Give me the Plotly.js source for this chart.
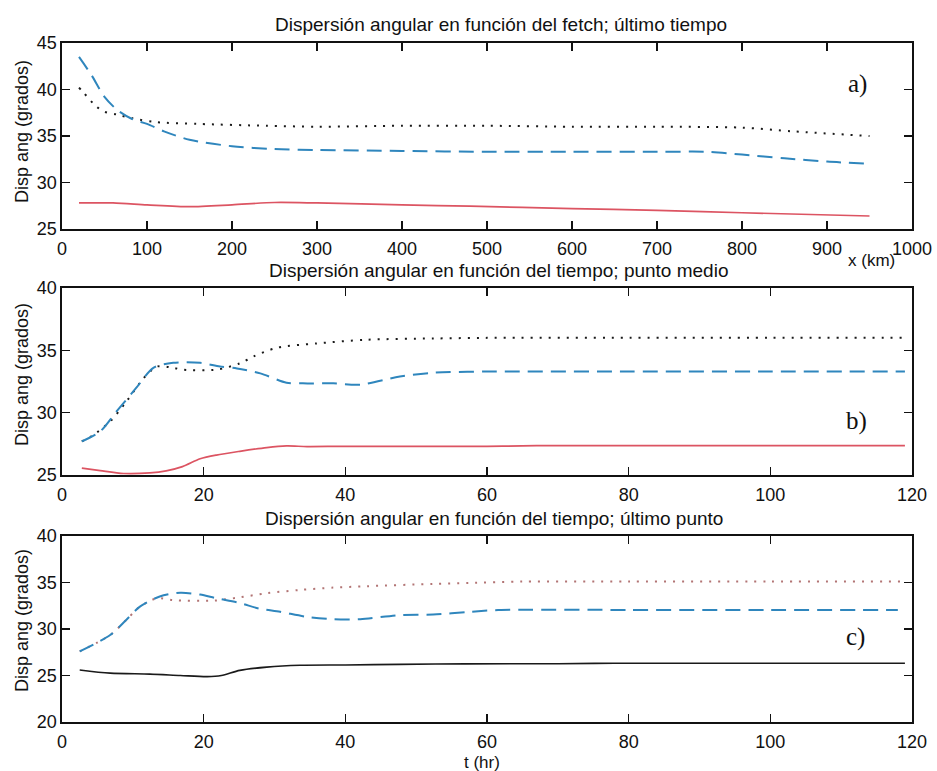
<!DOCTYPE html>
<html>
<head>
<meta charset="utf-8">
<script src="https://cdn.plot.ly/plotly-3.0.1.min.js"></script>
<style>
  html, body { margin: 0; padding: 0; background: #fff; }
  #chart { width: 937px; height: 771px; }
</style>
</head>
<body>
<div id="chart"></div>
<script>
// ---- a) angular spread vs fetch, last time step ----
const fetchDashX = [20, 35, 50, 65, 83, 100, 120, 150, 200, 250, 300, 400, 500, 600, 700, 760, 800, 850, 900, 950];
const fetchDashY = [43.5, 41.5, 39.2, 37.8, 36.8, 36.3, 35.5, 34.6, 33.9, 33.6, 33.5, 33.4, 33.3, 33.3, 33.3, 33.3, 33.0, 32.6, 32.25, 32.0];
const fetchDotX = [20, 26, 40, 50, 65, 83, 110, 160, 240, 300, 400, 500, 600, 700, 800, 860, 950];
const fetchDotY = [40.2, 39.6, 38.2, 37.6, 37.3, 36.9, 36.5, 36.3, 36.1, 36.0, 36.1, 36.1, 36.0, 36.0, 35.9, 35.5, 35.0];
const fetchSolidX = [20, 60, 100, 150, 200, 250, 300, 400, 480, 600, 700, 800, 950];
const fetchSolidY = [27.8, 27.8, 27.6, 27.4, 27.6, 27.85, 27.8, 27.6, 27.45, 27.2, 27.0, 26.75, 26.4];

// ---- b) angular spread vs time, mid point ----
const midDashT = [2.8, 5.4, 7.7, 10.5, 12.9, 15.7, 19.5, 22.3, 24.7, 28, 31.7, 34, 38.3, 42.1, 47.7, 52.4, 60, 80, 100, 119];
const midDashY = [27.7, 28.5, 30.1, 32.0, 33.6, 34.0, 34.0, 33.7, 33.55, 33.15, 32.4, 32.35, 32.35, 32.25, 32.9, 33.2, 33.3, 33.3, 33.3, 33.3];
const midDotT = [2.8, 4.4, 6.8, 9.1, 11.5, 13.4, 15.7, 17, 21.8, 25.1, 27, 30.3, 35.9, 43, 52.4, 60, 80, 100, 119];
const midDotY = [27.7, 28.2, 29.3, 30.9, 32.75, 33.7, 33.6, 33.45, 33.45, 33.95, 34.5, 35.2, 35.55, 35.85, 35.95, 36.0, 36.0, 36.0, 36.0];
const midSolidT = [2.8, 5.4, 8.7, 12.4, 14.7, 17, 19.5, 21.8, 25.1, 28.9, 31.7, 34.6, 40, 60, 67, 80, 100, 119];
const midSolidY = [25.55, 25.35, 25.12, 25.17, 25.33, 25.67, 26.3, 26.6, 26.9, 27.2, 27.33, 27.28, 27.3, 27.3, 27.35, 27.35, 27.35, 27.35];

// ---- c) angular spread vs time, last point ----
const endDashT = [2.5, 6.8, 9.1, 11.0, 13.8, 16.7, 19.5, 21.8, 25.1, 27.8, 30.8, 34.6, 38.3, 42.1, 47.7, 52.4, 57.6, 62, 80, 100, 118];
const endDashY = [27.6, 29.35, 31.0, 32.4, 33.5, 33.9, 33.7, 33.3, 32.8, 32.2, 31.85, 31.3, 31.05, 31.05, 31.5, 31.55, 31.85, 32.05, 32.05, 32.05, 32.05];
const endDotT = [2.5, 6.8, 9.1, 11.0, 13.4, 15.7, 21.4, 25.1, 28.9, 33.6, 38.3, 43, 52.4, 57.6, 65, 80, 100, 119];
const endDotY = [27.6, 29.35, 31.0, 32.4, 33.3, 33.1, 33.05, 33.4, 33.85, 34.2, 34.45, 34.6, 34.85, 34.95, 35.1, 35.1, 35.1, 35.1];
const endSolidT = [2.5, 6.8, 12.4, 16.7, 20.5, 22.5, 25.1, 28.9, 33.6, 40, 47.7, 57, 70, 78, 100, 119];
const endSolidY = [25.6, 25.25, 25.15, 25.0, 24.88, 25.0, 25.55, 25.9, 26.1, 26.13, 26.2, 26.25, 26.27, 26.32, 26.32, 26.32];

// Labels
const panelTitles = [
  'Dispersión angular en función del fetch; último tiempo',
  'Dispersión angular en función del tiempo; punto medio',
  'Dispersión angular en función del tiempo; último punto'
];
const panelTags = ['a)', 'b)', 'c)'];
const yLabel = 'Disp ang (grados)';
const xLabelFetch = 'x (km)';
const xLabelTime = 't (hr)';

const W = 937, H = 771;
const px = x => x / W;
const py = y => 1 - y / H;

const BLUE = '#2f86bd';
const RED = '#dc5462';
const BLACK = '#1a1a1a';
const PINK = '#b27474';
const DASH = '15px,8px';
const DOT = '2px,7px';

function line(x, y, axisIdx, color, dash, width) {
  const s = axisIdx === 1 ? '' : String(axisIdx);
  return {
    x: x, y: y, xaxis: 'x' + s, yaxis: 'y' + s,
    type: 'scatter', mode: 'lines',
    line: { color: color, dash: dash, width: width, shape: 'spline', smoothing: 0.8 },
    hoverinfo: 'skip', showlegend: false
  };
}

const traces = [
  line(fetchDotX, fetchDotY, 1, BLACK, DOT, 2),
  line(fetchDashX, fetchDashY, 1, BLUE, DASH, 2),
  line(fetchSolidX, fetchSolidY, 1, RED, 'solid', 1.7),
  line(midDotT, midDotY, 2, BLACK, DOT, 2),
  line(midDashT, midDashY, 2, BLUE, DASH, 2),
  line(midSolidT, midSolidY, 2, RED, 'solid', 1.7),
  line(endDotT, endDotY, 3, PINK, DOT, 2),
  line(endDashT, endDashY, 3, BLUE, DASH, 2),
  line(endSolidT, endSolidY, 3, BLACK, 'solid', 1.6)
];

const FONT = 'Liberation Sans, Arial, Helvetica, sans-serif';
const xDomain = [px(62), px(912)];

function axisBase(extra) {
  return Object.assign({
    showline: true, linecolor: '#111', linewidth: 1.6, mirror: 'ticks',
    ticks: 'inside', ticklen: 8, tickwidth: 1.5, tickcolor: '#111',
    showgrid: false, zeroline: false, fixedrange: true,
    tickfont: { family: FONT, size: 18, color: '#111' }
  }, extra);
}

const layout = {
  width: W, height: H,
  margin: { l: 0, r: 0, t: 0, b: 0 },
  paper_bgcolor: '#fff', plot_bgcolor: '#fff',
  showlegend: false,
  xaxis: axisBase({ domain: xDomain, anchor: 'y', range: [0, 1000], tick0: 0, dtick: 100, ticklabelstandoff: 3 }),
  yaxis: axisBase({ domain: [py(229), py(43)], anchor: 'x', range: [25, 45], tick0: 25, dtick: 5 }),
  xaxis2: axisBase({ domain: xDomain, anchor: 'y2', range: [0, 120], tick0: 0, dtick: 20, ticklabelstandoff: 3 }),
  yaxis2: axisBase({ domain: [py(475), py(288)], anchor: 'x2', range: [25, 40], tick0: 25, dtick: 5 }),
  xaxis3: axisBase({ domain: xDomain, anchor: 'y3', range: [0, 120], tick0: 0, dtick: 20, ticklabelstandoff: 3 }),
  yaxis3: axisBase({ domain: [py(722), py(536)], anchor: 'x3', range: [20, 40], tick0: 20, dtick: 5 }),
  annotations: []
};

function note(text, x, y, opts) {
  layout.annotations.push(Object.assign({
    text: text, xref: 'paper', yref: 'paper', x: px(x), y: py(y),
    xanchor: 'center', yanchor: 'middle', showarrow: false,
    font: { family: FONT, size: 17, color: '#111' }
  }, opts || {}));
}

const titleFont = { family: FONT, size: 19, color: '#111' };

// panel titles
note(panelTitles[0], 501, 24, { font: titleFont });
note(panelTitles[1], 498, 270, { font: titleFont });
note(panelTitles[2], 494, 518, { font: titleFont });

// y-axis titles
[132, 375, 621].forEach(yc => note(yLabel, 22, yc, { textangle: -90, font: { family: FONT, size: 18, color: '#111' } }));

// x-axis titles
note(xLabelFetch, 871, 260);
note(xLabelTime, 482, 762);

// panel tags
const tagFont = { family: 'Liberation Serif, Times New Roman, serif', size: 25, color: '#111' };
note(panelTags[0], 857, 84, { font: tagFont });
note(panelTags[1], 856, 421, { font: tagFont });
note(panelTags[2], 855, 637, { font: tagFont });

Plotly.newPlot('chart', traces, layout, { staticPlot: true, displayModeBar: false });
</script>
</body>
</html>
